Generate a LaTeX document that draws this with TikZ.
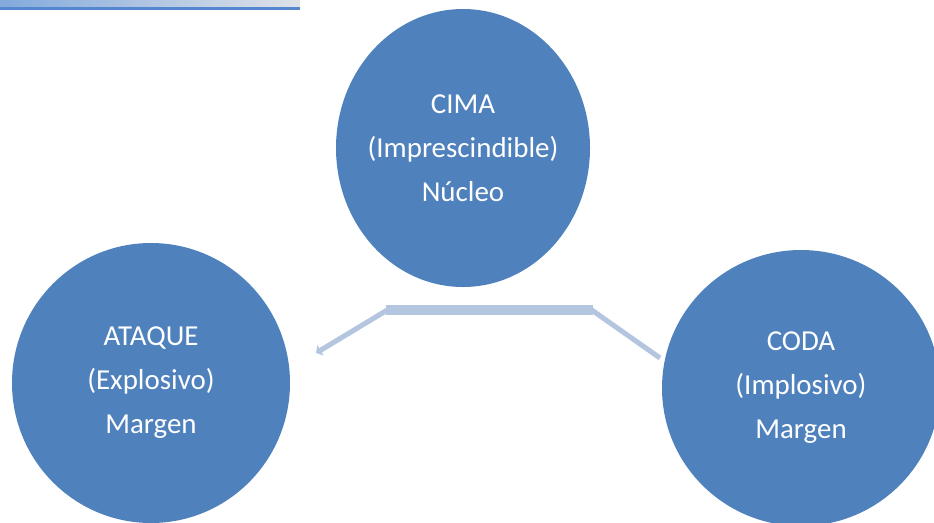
\documentclass[tikz,border=0pt]{standalone}
\usepackage{fontspec}
\setmainfont{Carlito}
\usepackage{tikz}
\usetikzlibrary{arrows.meta,shapes.geometric}
\definecolor{C1}{RGB}{79,129,189}
\definecolor{C2}{RGB}{180,197,223}
\definecolor{Cbar}{RGB}{131,170,220}
\definecolor{Cbarr}{RGB}{222,226,232}
\definecolor{Cline}{RGB}{84,135,205}

\begin{document}
\begin{tikzpicture}[x=0.75pt,y=-0.75pt,
    bubble/.style={ellipse,fill=C1,inner sep=0pt},
    words/.style={text=white,align=center,inner sep=0pt,
      font=\fontsize{21.7}{33}\selectfont},
    link/.style={C2,line width=3.8pt}]
    \useasboundingbox (0,0) rectangle (934,522);
    % top bar
    \shade[left color=Cbar,right color=Cbarr] (0,0) rectangle (300,7);
    \fill[Cline] (0,7) rectangle (300,9.5);
    % the three parts
    \node[bubble,minimum width=190.5pt,minimum height=208.5pt,
      label={[words]center:{CIMA\\(Imprescindible)\\Núcleo}}] (cima) at (463,148) {};
    \node[bubble,minimum width=208.5pt,minimum height=210pt,
      label={[words]center:{ATAQUE\\(Explosivo)\\Margen}}] (ataque) at (151,383) {};
    \node[bubble,minimum width=208.5pt,minimum height=207pt,
      label={[words]center:{CODA\\(Implosivo)\\Margen}}] (coda) at (801,388) {};
    % connector
    \coordinate (ml) at (386,310);
    \coordinate (mr) at (593,310);
    \coordinate (al) at (316,353);
    \coordinate (cl) at (660,358);
    \draw[link,-{Triangle[width=9pt,length=4pt]}] ([xshift=1pt]ml) -- (al);
    \draw[link] ([xshift=-1pt]mr) -- (cl);
    \draw[link,line width=6.8pt] (ml) -- (mr);
  \end{tikzpicture}
\end{document}
